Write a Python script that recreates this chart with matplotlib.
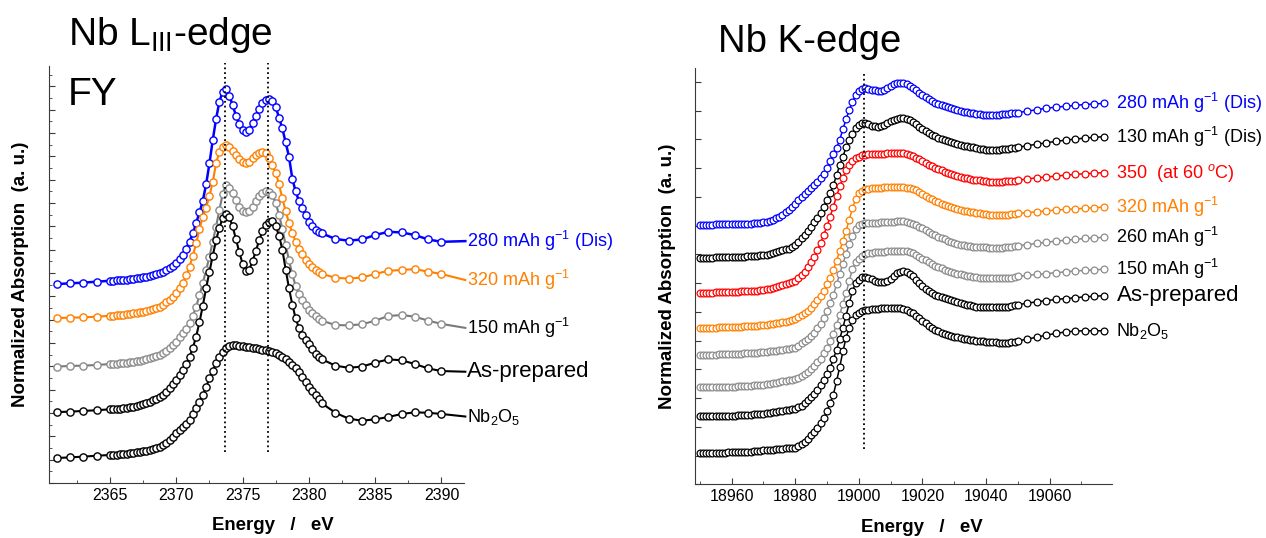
import numpy as np
import matplotlib
matplotlib.use("Agg")
import matplotlib.pyplot as plt
from matplotlib.ticker import MultipleLocator, NullFormatter

plt.rcParams['font.family'] = ['Liberation Sans', 'DejaVu Sans']
plt.rcParams['mathtext.fontset'] = 'custom'
plt.rcParams['mathtext.rm'] = 'Liberation Sans'
plt.rcParams['mathtext.it'] = 'Liberation Sans:italic'
plt.rcParams['mathtext.bf'] = 'Liberation Sans:bold'

# ---------------- Nb L_III-edge (FY) data ----------------
L_energy = np.concatenate([[2361, 2362, 2363, 2364],
                           np.arange(2365.0, 2381.01, 0.25),
                           [2382, 2383, 2384, 2385, 2386, 2387, 2388, 2389, 2390]])

L_nb2o5 = [1.07, 1.10, 1.13, 1.17,
           1.20, 1.21, 1.22, 1.23, 1.24, 1.26, 1.27, 1.29, 1.31, 1.33,
           1.36, 1.38, 1.41, 1.45, 1.50, 1.56, 1.63, 1.72, 1.84, 1.98,
           2.13, 2.26, 2.39, 2.53, 2.70, 2.94, 3.20, 3.48, 3.77, 4.12,
           4.49, 4.82, 5.13, 5.40, 5.63, 5.80, 5.89, 5.92, 5.91, 5.89,
           5.87, 5.84, 5.81, 5.79, 5.77, 5.74, 5.71, 5.69, 5.66, 5.62,
           5.56, 5.49, 5.41, 5.31, 5.20, 5.06, 4.91, 4.74, 4.56, 4.35,
           4.13, 3.95, 3.77, 3.59, 3.41,
           3.01, 2.76, 2.67, 2.73, 2.83, 2.96, 3.03, 3.01, 2.96]

L_asprep = [3.04, 3.06, 3.09, 3.12,
            3.16, 3.17, 3.18, 3.19, 3.20, 3.22, 3.24, 3.27, 3.30, 3.34,
            3.38, 3.43, 3.49, 3.54, 3.59, 3.67, 3.77, 3.90, 4.06, 4.25,
            4.42, 4.62, 4.84, 5.10, 5.41, 5.80, 6.28, 6.90, 7.60, 8.35,
            9.05, 9.75, 10.40, 10.95, 11.35, 11.55, 11.40, 11.00, 10.45, 9.90,
            9.40, 9.10, 9.15, 9.50, 9.95, 10.40, 10.80, 11.05, 11.20, 11.22,
            11.00, 10.60, 10.00, 9.15, 8.35, 7.65, 7.06, 6.65, 6.34, 6.12,
            5.96, 5.75, 5.55, 5.40, 5.30,
            5.03, 4.94, 4.99, 5.16, 5.30, 5.26, 5.10, 4.91, 4.80]

L_150 = [4.99, 5.02, 5.03, 5.06,
         5.10, 5.11, 5.12, 5.13, 5.14, 5.16, 5.18, 5.20, 5.22, 5.25,
         5.28, 5.32, 5.36, 5.40, 5.45, 5.50, 5.56, 5.67, 5.80, 5.93,
         6.06, 6.24, 6.42, 6.62, 6.84, 7.18, 7.56, 8.05, 8.56, 9.13,
         9.70, 10.35, 10.99, 11.70, 12.40, 12.77, 12.65, 12.42, 12.12, 11.85,
         11.68, 11.62, 11.68, 11.85, 12.08, 12.30, 12.45, 12.50, 12.47, 12.35,
         12.00, 11.50, 10.90, 10.20, 9.55, 8.95, 8.45, 8.10, 7.85, 7.62,
         7.43, 7.28, 7.15, 7.05, 6.96,
         6.77, 6.76, 6.80, 6.96, 7.16, 7.20, 7.13, 6.96, 6.82]

L_320 = [7.07, 7.09, 7.10, 7.13,
         7.17, 7.18, 7.19, 7.20, 7.21, 7.23, 7.25, 7.27, 7.29, 7.32,
         7.35, 7.39, 7.43, 7.47, 7.51, 7.56, 7.64, 7.74, 7.85, 7.98,
         8.15, 8.35, 8.58, 8.90, 9.27, 9.75, 10.27, 10.90, 11.40, 11.80,
         12.30, 12.90, 13.70, 14.20, 14.40, 14.49, 14.40, 14.25, 14.05, 13.88,
         13.75, 13.70, 13.78, 13.92, 14.05, 14.15, 14.20, 14.15, 13.95, 13.62,
         13.30, 12.80, 12.20, 11.65, 11.15, 10.72, 10.35, 10.05, 9.80, 9.58,
         9.40, 9.25, 9.14, 9.04, 8.96,
         8.80, 8.76, 8.81, 8.96, 9.10, 9.13, 9.17, 9.06, 8.96]

L_280 = [8.53, 8.56, 8.59, 8.63,
         8.67, 8.68, 8.69, 8.70, 8.71, 8.72, 8.74, 8.76, 8.78, 8.80,
         8.83, 8.85, 8.87, 8.91, 8.95, 9.00, 9.06, 9.13, 9.22, 9.32,
         9.45, 9.60, 9.78, 10.05, 10.35, 10.70, 11.15, 11.60, 12.10, 12.80,
         13.70, 14.70, 15.60, 16.35, 16.78, 16.87, 16.60, 16.20, 15.75, 15.38,
         15.15, 15.06, 15.13, 15.45, 15.75, 16.05, 16.30, 16.44, 16.45, 16.38,
         16.13, 15.65, 15.20, 14.60, 13.99, 13.05, 12.50, 12.10, 11.80, 11.50,
         11.20, 11.00, 10.86, 10.77, 10.70,
         10.46, 10.39, 10.44, 10.63, 10.77, 10.74, 10.63, 10.44, 10.34]

L_names = ["280 mAh g$^{-1}$ (Dis)", "320 mAh g$^{-1}$", "150 mAh g$^{-1}$",
           "As-prepared", "Nb$_2$O$_5$"]
L_label_y = [10.37, 8.70, 6.65, 4.77, 2.85]
L_peaks = [2373.64, 2376.9]

# ---------------- Nb K-edge data ----------------
K_energy = np.concatenate([np.arange(18950, 19050.1, 1),
                           np.arange(19053, 19077.1, 3)])

K_280 = [9.02, 9.02, 9.03, 9.03, 9.03, 9.04, 9.04, 9.04, 9.05, 9.05,
         9.05, 9.05, 9.06, 9.06, 9.06, 9.07, 9.07, 9.08, 9.09, 9.10,
         9.11, 9.13, 9.16, 9.20, 9.25, 9.30, 9.37, 9.46, 9.55, 9.65,
         9.75, 9.88, 10.00, 10.10, 10.20, 10.30, 10.42, 10.53, 10.65, 10.80,
         11.00, 11.25, 11.50, 11.70, 11.98, 12.35, 12.70, 13.02, 13.30, 13.53,
         13.68, 13.76, 13.78, 13.75, 13.72, 13.70, 13.69, 13.69, 13.72, 13.78,
         13.85, 13.91, 13.95, 13.97, 13.96, 13.92, 13.87, 13.80, 13.71, 13.62,
         13.55, 13.47, 13.40, 13.34, 13.28, 13.24, 13.20, 13.16, 13.12, 13.08,
         13.05, 13.02, 12.99, 12.96, 12.94, 12.92, 12.90, 12.88, 12.87, 12.86,
         12.86, 12.85, 12.85, 12.85, 12.86, 12.87, 12.88, 12.89, 12.90, 12.91,
         12.93,
         12.98, 13.03, 13.08, 13.12, 13.15, 13.18, 13.21, 13.23, 13.25]

K_130 = [7.87, 7.87, 7.88, 7.88, 7.88, 7.89, 7.89, 7.89, 7.90, 7.90,
         7.90, 7.91, 7.91, 7.92, 7.92, 7.93, 7.93, 7.94, 7.95, 7.96,
         7.97, 7.99, 8.02, 8.05, 8.08, 8.11, 8.14, 8.17, 8.20, 8.27,
         8.34, 8.44, 8.55, 8.68, 8.82, 8.96, 9.11, 9.27, 9.44, 9.66,
         9.90, 10.13, 10.40, 10.75, 11.10, 11.40, 11.72, 11.96, 12.20, 12.38,
         12.50, 12.56, 12.56, 12.52, 12.48, 12.45, 12.43, 12.45, 12.50, 12.56,
         12.62, 12.68, 12.72, 12.75, 12.74, 12.71, 12.66, 12.60, 12.53, 12.44,
         12.36, 12.28, 12.22, 12.16, 12.11, 12.06, 12.02, 11.98, 11.94, 11.90,
         11.87, 11.84, 11.81, 11.78, 11.76, 11.74, 11.72, 11.69, 11.67, 11.65,
         11.64, 11.63, 11.63, 11.63, 11.64, 11.65, 11.66, 11.67, 11.69, 11.70,
         11.72,
         11.78, 11.83, 11.88, 11.93, 11.97, 12.01, 12.04, 12.07, 12.09]

K_350 = [6.66, 6.66, 6.67, 6.67, 6.67, 6.68, 6.68, 6.68, 6.69, 6.69,
         6.69, 6.70, 6.70, 6.71, 6.71, 6.72, 6.72, 6.73, 6.74, 6.75,
         6.76, 6.78, 6.80, 6.83, 6.86, 6.89, 6.92, 6.96, 7.00, 7.03,
         7.07, 7.17, 7.28, 7.40, 7.55, 7.72, 7.92, 8.14, 8.40, 8.68,
         8.98, 9.31, 9.66, 10.02, 10.36, 10.66, 10.93, 11.10, 11.25, 11.34,
         11.40, 11.44, 11.47, 11.49, 11.50, 11.50, 11.50, 11.50, 11.50, 11.51,
         11.51, 11.52, 11.52, 11.52, 11.51, 11.48, 11.45, 11.41, 11.36, 11.30,
         11.24, 11.17, 11.11, 11.06, 11.01, 10.96, 10.92, 10.87, 10.83, 10.79,
         10.76, 10.73, 10.70, 10.67, 10.64, 10.62, 10.60, 10.58, 10.57, 10.55,
         10.54, 10.53, 10.53, 10.53, 10.53, 10.53, 10.54, 10.54, 10.55, 10.56,
         10.58,
         10.62, 10.66, 10.69, 10.72, 10.75, 10.78, 10.80, 10.82, 10.84]

K_320 = [5.44, 5.44, 5.44, 5.45, 5.45, 5.45, 5.46, 5.46, 5.46, 5.47,
         5.47, 5.47, 5.48, 5.48, 5.49, 5.49, 5.50, 5.51, 5.52, 5.53,
         5.54, 5.55, 5.56, 5.58, 5.60, 5.62, 5.64, 5.66, 5.68, 5.71,
         5.74, 5.81, 5.88, 5.95, 6.03, 6.14, 6.26, 6.40, 6.55, 6.74,
         6.95, 7.18, 7.45, 7.78, 8.12, 8.47, 8.82, 9.20, 9.60, 9.92,
         10.12, 10.21, 10.26, 10.28, 10.29, 10.30, 10.31, 10.32, 10.33, 10.34,
         10.34, 10.35, 10.35, 10.35, 10.34, 10.32, 10.30, 10.27, 10.23, 10.17,
         10.10, 10.03, 9.97, 9.91, 9.86, 9.81, 9.76, 9.71, 9.67, 9.64,
         9.61, 9.58, 9.55, 9.52, 9.50, 9.48, 9.46, 9.44, 9.42, 9.40,
         9.39, 9.38, 9.37, 9.37, 9.37, 9.37, 9.38, 9.38, 9.39, 9.40,
         9.42,
         9.45, 9.48, 9.51, 9.54, 9.56, 9.58, 9.60, 9.62, 9.64]

K_260 = [4.50, 4.50, 4.50, 4.51, 4.51, 4.51, 4.52, 4.52, 4.52, 4.53,
         4.53, 4.53, 4.54, 4.54, 4.55, 4.55, 4.56, 4.57, 4.58, 4.59,
         4.60, 4.61, 4.62, 4.63, 4.64, 4.66, 4.68, 4.70, 4.72, 4.73,
         4.75, 4.82, 4.90, 4.97, 5.05, 5.15, 5.27, 5.42, 5.58, 5.79,
         6.02, 6.30, 6.58, 6.95, 7.32, 7.67, 8.02, 8.35, 8.65, 8.87,
         9.01, 9.07, 9.08, 9.09, 9.09, 9.10, 9.10, 9.11, 9.11, 9.12,
         9.13, 9.14, 9.15, 9.15, 9.15, 9.13, 9.10, 9.06, 9.01, 8.96,
         8.90, 8.84, 8.78, 8.72, 8.66, 8.61, 8.56, 8.52, 8.47, 8.43,
         8.40, 8.37, 8.34, 8.31, 8.29, 8.28, 8.26, 8.25, 8.25, 8.24,
         8.24, 8.23, 8.23, 8.23, 8.23, 8.23, 8.24, 8.25, 8.26, 8.28,
         8.30,
         8.34, 8.38, 8.42, 8.46, 8.49, 8.52, 8.55, 8.57, 8.59]

K_150 = [3.37, 3.37, 3.37, 3.38, 3.38, 3.38, 3.39, 3.39, 3.39, 3.40,
         3.40, 3.40, 3.41, 3.41, 3.42, 3.42, 3.43, 3.44, 3.45, 3.46,
         3.47, 3.48, 3.50, 3.52, 3.54, 3.56, 3.58, 3.60, 3.62, 3.64,
         3.66, 3.71, 3.77, 3.84, 3.92, 4.01, 4.12, 4.24, 4.37, 4.55,
         4.75, 4.98, 5.24, 5.55, 5.90, 6.27, 6.65, 7.08, 7.48, 7.72,
         7.85, 7.94, 8.00, 8.04, 8.06, 8.07, 8.08, 8.08, 8.09, 8.10,
         8.11, 8.12, 8.13, 8.13, 8.12, 8.10, 8.07, 8.03, 7.98, 7.92,
         7.85, 7.79, 7.72, 7.66, 7.61, 7.56, 7.51, 7.47, 7.43, 7.39,
         7.36, 7.33, 7.30, 7.28, 7.25, 7.23, 7.21, 7.20, 7.19, 7.18,
         7.17, 7.16, 7.16, 7.16, 7.16, 7.16, 7.17, 7.18, 7.19, 7.21,
         7.23,
         7.27, 7.30, 7.33, 7.36, 7.39, 7.42, 7.44, 7.46, 7.48]

K_asprep = [2.36, 2.36, 2.36, 2.37, 2.37, 2.37, 2.38, 2.38, 2.38, 2.39,
            2.39, 2.39, 2.40, 2.40, 2.41, 2.41, 2.42, 2.43, 2.44, 2.45,
            2.46, 2.47, 2.48, 2.50, 2.52, 2.54, 2.56, 2.58, 2.59, 2.61,
            2.62, 2.68, 2.74, 2.83, 2.92, 3.02, 3.13, 3.28, 3.45, 3.62,
            3.82, 4.06, 4.35, 4.68, 5.05, 5.45, 5.87, 6.30, 6.72, 7.00,
            7.12, 7.20, 7.22, 7.18, 7.13, 7.08, 7.05, 7.03, 7.03, 7.07,
            7.15, 7.25, 7.35, 7.40, 7.42, 7.39, 7.32, 7.23, 7.12, 7.00,
            6.89, 6.80, 6.72, 6.65, 6.58, 6.54, 6.51, 6.48, 6.45, 6.42,
            6.39, 6.35, 6.32, 6.28, 6.25, 6.22, 6.20, 6.18, 6.17, 6.16,
            6.16, 6.15, 6.15, 6.15, 6.15, 6.16, 6.17, 6.18, 6.20, 6.22,
            6.25,
            6.30, 6.35, 6.39, 6.43, 6.46, 6.49, 6.52, 6.54, 6.56]

K_nb2o5 = [1.08, 1.08, 1.08, 1.09, 1.09, 1.09, 1.10, 1.10, 1.10, 1.11,
           1.11, 1.11, 1.12, 1.12, 1.13, 1.13, 1.14, 1.15, 1.16, 1.17,
           1.18, 1.19, 1.20, 1.21, 1.22, 1.23, 1.24, 1.25, 1.26, 1.27,
           1.28, 1.34, 1.40, 1.48, 1.58, 1.70, 1.83, 1.97, 2.12, 2.32,
           2.55, 2.82, 3.12, 3.58, 4.08, 4.62, 5.10, 5.45, 5.72, 5.88,
           5.97, 6.03, 6.06, 6.08, 6.09, 6.10, 6.11, 6.12, 6.12, 6.13,
           6.14, 6.14, 6.14, 6.12, 6.10, 6.06, 6.01, 5.95, 5.87, 5.78,
           5.69, 5.60, 5.52, 5.45, 5.38, 5.33, 5.28, 5.24, 5.20, 5.17,
           5.14, 5.11, 5.09, 5.07, 5.05, 5.03, 5.01, 4.99, 4.98, 4.97,
           4.96, 4.95, 4.94, 4.94, 4.93, 4.93, 4.93, 4.93, 4.94, 4.96,
           4.99,
           5.05, 5.12, 5.19, 5.25, 5.30, 5.33, 5.34, 5.34, 5.34]

K_names = ["280 mAh g$^{-1}$ (Dis)", "130 mAh g$^{-1}$ (Dis)", "350  (at 60 $^{o}$C)",
           "320 mAh g$^{-1}$", "260 mAh g$^{-1}$", "150 mAh g$^{-1}$",
           "As-prepared", "Nb$_2$O$_5$"]
K_edge_line = 19001.5

# ---------------- styles ----------------
BLUE = '#0000FF'
ORANGE = '#FF8000'
GRAY = '#8C8C8C'
RED = '#FF0000'
BLACK = '#000000'

fig = plt.figure(figsize=(12.66, 5.38), dpi=100)
W, H = 1266.0, 538.0

def ax_rect(l, t, r, b):
    return [l / W, 1 - b / H, (r - l) / W, (b - t) / H]

axL = fig.add_axes(ax_rect(49, 65.7, 464, 483))
axR = fig.add_axes(ax_rect(695.3, 68.3, 1112, 484.3))

for ax in (axL, axR):
    ax.spines['top'].set_visible(False)
    ax.spines['right'].set_visible(False)
    ax.spines['left'].set_color('#3a3a3a')
    ax.spines['bottom'].set_color('#3a3a3a')
    ax.tick_params(direction='in', which='both', colors='#3a3a3a',
                   labelcolor='black', labelsize=11.5)
    ax.tick_params(which='major', length=4)
    ax.tick_params(which='minor', length=2.5)
    ax.yaxis.set_major_formatter(NullFormatter())

# ---- left panel ----
L_series = [(L_280, BLUE, BLUE, BLUE, 1.8),
            (L_320, ORANGE, ORANGE, ORANGE, 1.5),
            (L_150, '#7a7a7a', GRAY, 'black', 1.5),
            (L_asprep, BLACK, BLACK, 'black', 1.5),
            (L_nb2o5, BLACK, BLACK, 'black', 1.5)]
for (ys, lc, mc, tc, lw), name, ly in zip(L_series, L_names, L_label_y):
    axL.plot(L_energy, ys, '-', color=lc, lw=lw, marker='o', ms=5.2,
             mfc='white', mec=mc, mew=1.0, zorder=3)
    axL.plot([L_energy[-1], 2391.8], [ys[-1], ly], '-', color=lc, lw=lw,
             clip_on=False, zorder=2)
    fs = 16 if name == "As-prepared" else 13
    axL.text(2391.9, ly, name, color=tc, fontsize=fs, va='center', ha='left')

for xp in L_peaks:
    axL.plot([xp, xp], [1.33, 18.0], ':', color='black', lw=1.3,
             clip_on=False, zorder=4)

axL.set_xlim(2360.4, 2391.7)
axL.set_ylim(0, 17.89)
axL.xaxis.set_major_locator(MultipleLocator(5))
axL.xaxis.set_minor_locator(MultipleLocator(2.5))
axL.yaxis.set_major_locator(MultipleLocator(1))
axL.yaxis.set_minor_locator(MultipleLocator(0.5))

# ---- right panel ----
K_series = [(K_280, BLUE, BLUE),
            (K_130, BLACK, 'black'),
            (K_350, RED, RED),
            (K_320, ORANGE, ORANGE),
            (K_260, GRAY, 'black'),
            (K_150, GRAY, 'black'),
            (K_asprep, BLACK, 'black'),
            (K_nb2o5, BLACK, 'black')]
for (ys, col, tc), name in zip(K_series, K_names):
    axR.plot(K_energy, ys, '-', color=col, lw=1.1, marker='o', ms=4.9,
             mfc='white', mec=col, mew=0.9, zorder=3, clip_on=False)
    fs = 16 if name == "As-prepared" else 13
    axR.text(19081.0, ys[-1], name, color=tc, fontsize=fs, va='center', ha='left')

axR.plot([K_edge_line, K_edge_line], [1.22, 14.27], ':', color='black', lw=1.3,
         zorder=4)

axR.set_xlim(18948.6, 19079.6)
axR.set_ylim(0, 14.47)
axR.xaxis.set_major_locator(MultipleLocator(20))
axR.xaxis.set_minor_locator(MultipleLocator(10))
axR.yaxis.set_major_locator(MultipleLocator(1))

# ---- texts ----
def ftxt(x, y, s, **kw):
    fig.text(x / W, 1 - y / H, s, **kw)

ftxt(68, 45, r"Nb L$_{\mathregular{III}}$-edge", fontsize=28, va='baseline', ha='left')
ftxt(68, 105, "FY", fontsize=28, va='baseline', ha='left')
ftxt(718, 51.7, "Nb K-edge", fontsize=27.5, va='baseline', ha='left')

ftxt(21, 274, "Normalized Absorption  (a. u.)", fontsize=13.5, fontweight='bold',
     rotation=90, va='center', ha='center')
ftxt(667, 276, "Normalized Absorption  (a. u.)", fontsize=13.5, fontweight='bold',
     rotation=90, va='center', ha='center')
ftxt(273, 526, "Energy   /   eV", fontsize=13.4, fontweight='bold',
     va='center', ha='center')
ftxt(922, 528, "Energy   /   eV", fontsize=13.4, fontweight='bold',
     va='center', ha='center')

fig.savefig("out.png", dpi=100)
